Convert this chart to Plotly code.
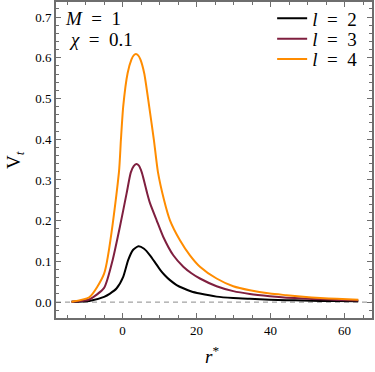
import plotly.graph_objects as go

# r* values and potential values
x_l2 = [-13.8, -9.0, -5.0, -3.4, -1.6, 0.16, 1.5, 2.8, 4.3, 5.8, 7.4, 8.8, 10.1, 11.4, 12.8, 14.6,
        16.4, 18.6, 20.9, 25.4, 29.9, 34.4, 39.8, 44.3, 48.8, 53.4, 57.9, 63.7]
v_l2 = [0.001, 0.003, 0.013, 0.021, 0.034, 0.062, 0.103, 0.128, 0.137, 0.131, 0.115, 0.097, 0.080,
        0.066, 0.054, 0.042, 0.034, 0.026, 0.021, 0.0135, 0.010, 0.008, 0.006, 0.0048, 0.0038,
        0.003, 0.0025, 0.002]

x_l3 = [-13.8, -9.0, -5.0, -2.7, -0.73, 1.08, 2.2, 3.0, 3.7, 4.4, 5.2, 6.65, 7.4, 9.2, 11.0, 13.7,
        16.4, 18.6, 20.9, 25.4, 29.9, 34.4, 39.8, 44.3, 48.8, 53.4, 57.9, 63.7]
v_l3 = [0.001, 0.0065, 0.035, 0.103, 0.185, 0.267, 0.318, 0.334, 0.339, 0.335, 0.318, 0.267, 0.243,
        0.201, 0.160, 0.115, 0.087, 0.071, 0.058, 0.039, 0.027, 0.020, 0.0145, 0.011, 0.0088,
        0.007, 0.0055, 0.0042]

x_l4 = [-13.8, -9.0, -5.0, -1.0, -0.46, 0.16, 1.35, 2.4, 3.0, 3.6, 4.2, 4.8, 5.84, 7.19, 8.46,
        9.54, 11.2, 12.8, 15.5, 18.2, 20.9, 25.4, 29.9, 34.4, 39.8, 44.3, 48.8, 53.4, 57.9, 63.7]
v_l4 = [0.001, 0.012, 0.070, 0.318, 0.398, 0.480, 0.562, 0.596, 0.606, 0.609, 0.606, 0.596, 0.562,
        0.480, 0.398, 0.320, 0.251, 0.201, 0.152, 0.115, 0.087, 0.058, 0.039, 0.029, 0.021, 0.017,
        0.013, 0.010, 0.008, 0.006]

series_names = ["<i>l</i>\u2002=\u20022", "<i>l</i>\u2002=\u20023", "<i>l</i>\u2002=\u20024"]
series_colors = ["#000000", "#7f1f3f", "#ff8c00"]
x_ticks = [0, 20, 40, 60]

FONT = "Liberation Serif"
FRAME = "#6e6e6e"

legend_ids = ["legend", "legend2", "legend3"]
legend_y = [0.948, 0.883, 0.819]

fig = go.Figure()
for xs, vs, name, col, lid in zip([x_l2, x_l3, x_l4], [v_l2, v_l3, v_l4], series_names,
                                  series_colors, legend_ids):
    fig.add_trace(go.Scatter(x=xs, y=vs, mode="lines", name=name, legend=lid,
                             line=dict(color=col, width=2, shape="spline", smoothing=0.6)))

fig.add_hline(y=0, line=dict(color="#8c8c8c", width=1, dash="5px,4px"), layer="below")

axis_common = dict(
    showgrid=False, zeroline=False, showline=True, mirror="allticks",
    linecolor=FRAME, linewidth=1.6, automargin=False,
    ticks="inside", ticklen=5, tickwidth=1, tickcolor=FRAME,
    tickfont=dict(family=FONT, size=13, color="black"),
)
fig.update_xaxes(range=[-18, 67.4], tickvals=x_ticks,
                 minor=dict(dtick=5, tick0=0, ticks="inside", ticklen=3, tickcolor=FRAME),
                 **axis_common)
fig.update_yaxes(range=[-0.039, 0.737], dtick=0.1, tick0=0, tickformat=".1f",
                 minor=dict(dtick=0.02, tick0=0, ticks="inside", ticklen=3, tickcolor=FRAME),
                 **axis_common)

legend_style = dict(x=0.684, xanchor="left", yanchor="middle",
                    bgcolor="rgba(0,0,0,0)", borderwidth=0,
                    font=dict(family=FONT, size=19, color="black"), itemwidth=30)

fig.update_layout(
    width=375, height=372,
    margin=dict(l=56, r=3, t=2, b=54, autoexpand=False),
    paper_bgcolor="white", plot_bgcolor="white",
    showlegend=True,
    legend=dict(y=legend_y[0], **legend_style),
    legend2=dict(y=legend_y[1], **legend_style),
    legend3=dict(y=legend_y[2], **legend_style),
    annotations=[
        dict(text="<i>M</i>\u2002=\u20021", xref="paper", yref="paper", x=0.022, y=0.949,
             xanchor="left", yanchor="middle", showarrow=False,
             font=dict(family=FONT, size=19, color="black")),
        dict(text="<i>χ</i>\u2002=\u20020.1", xref="paper", yref="paper", x=0.035, y=0.880,
             xanchor="left", yanchor="middle", showarrow=False,
             font=dict(family=FONT, size=19, color="black")),
        dict(text="V<sub><i>t</i></sub>", xref="paper", yref="paper", x=-0.13, y=0.5,
             xanchor="center", yanchor="middle", textangle=-90, showarrow=False,
             font=dict(family=FONT, size=19, color="black")),
        dict(text="<i>r</i><sup>*</sup>", xref="paper", yref="paper", x=0.494, y=-0.117,
             xanchor="center", yanchor="middle", showarrow=False,
             font=dict(family=FONT, size=19, color="black")),
    ],
)

fig.write_html("out.html", config={"displayModeBar": False},
               post_script="document.body.style.margin='0';")
